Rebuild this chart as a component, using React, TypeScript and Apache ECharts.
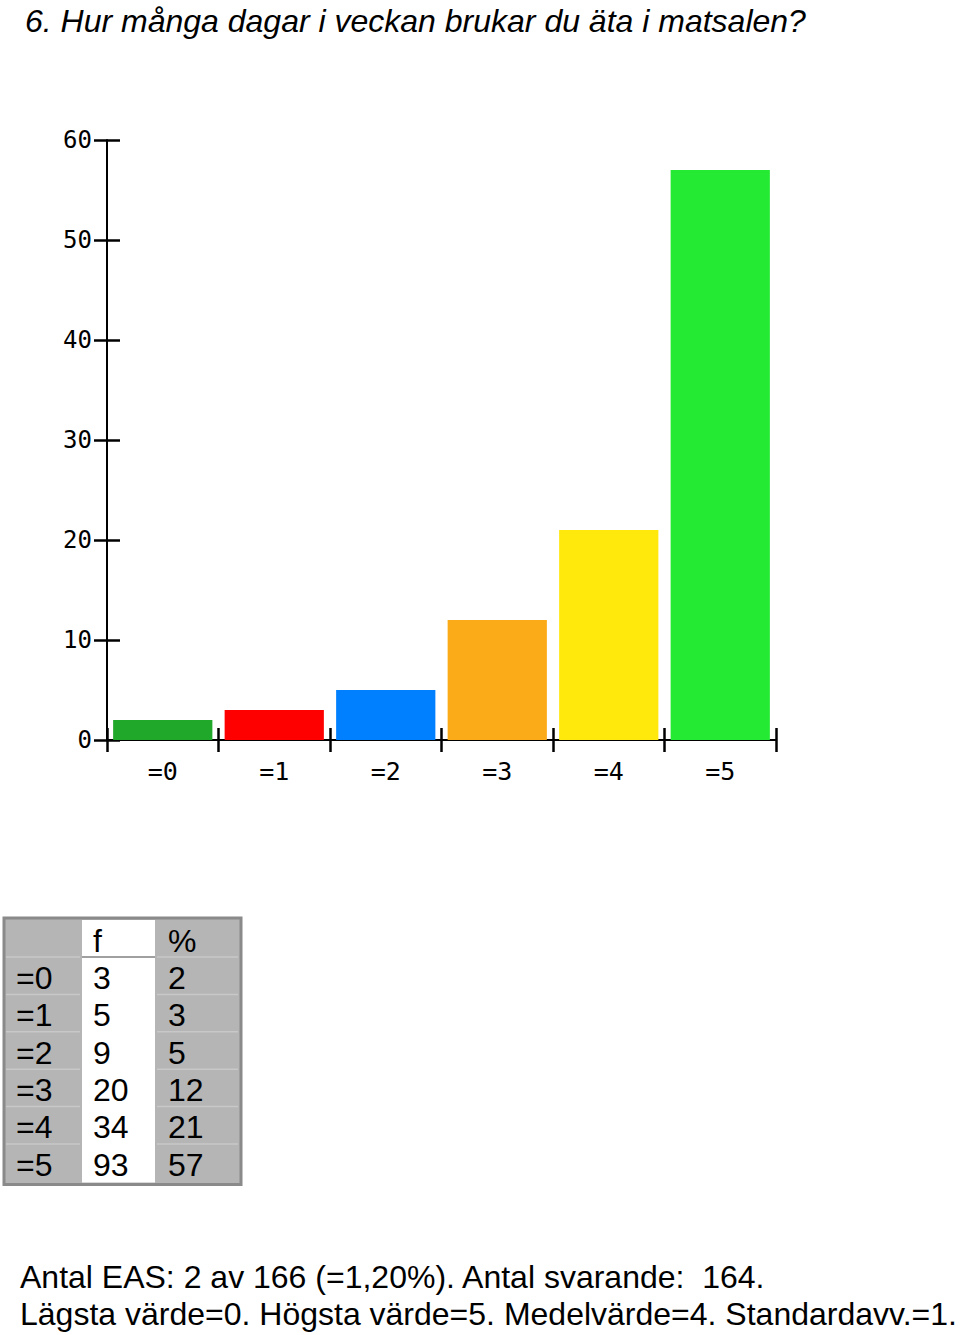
import React, { useEffect, useRef } from 'react';
import * as echarts from 'echarts';

const chartTitle = '6. Hur många dagar i veckan brukar du äta i matsalen?';
const categories = ['=0', '=1', '=2', '=3', '=4', '=5'];
const frequencies = [3, 5, 9, 20, 34, 93];
const percents = [2, 3, 5, 12, 21, 57];
const barColors = ['#1fa82a', '#fe0000', '#0080ff', '#fbab18', '#ffe80c', '#25ea34'];
const tableHeader = ['', 'f', '%'];
const footerLines = [
  'Antal EAS: 2 av 166 (=1,20%). Antal svarande:  164.',
  'Lägsta värde=0. Högsta värde=5. Medelvärde=4. Standardavv.=1.',
];

const sans = '"Liberation Sans", Arial, sans-serif';
const pixelFont = '"DejaVu Sans Mono", monospace';

// table geometry
const tableLeft = 4;
const tableTop = 918;
const headerH = 39;
const rowH = 37.4;
const colLeft = [6, 82, 157];
const colRight = [80, 155, 238];

function buildTable(): any[] {
  const rows = [tableHeader, ...categories.map((c, i) => [c, String(frequencies[i]), String(percents[i])])];
  const bottom = tableTop + headerH + rowH * categories.length + 3;
  const els: any[] = [
    {
      type: 'rect',
      shape: { x: tableLeft, y: tableTop, width: 237, height: bottom - tableTop },
      style: { fill: '#b5b5b5', stroke: '#8a8a8a', lineWidth: 3 },
    },
    {
      type: 'rect',
      shape: { x: colLeft[1], y: tableTop + 2, width: colRight[1] - colLeft[1], height: bottom - tableTop - 4 },
      style: { fill: '#ffffff' },
    },
  ];
  // row separators
  for (let r = 0; r < categories.length; r++) {
    const y = tableTop + headerH + rowH * r;
    els.push({
      type: 'line',
      shape: { x1: colLeft[0], y1: y, x2: colRight[0], y2: y },
      style: { stroke: '#c8c8c8', lineWidth: 1.5 },
    });
    els.push({
      type: 'line',
      shape: { x1: colLeft[2], y1: y, x2: colRight[2], y2: y },
      style: { stroke: '#c8c8c8', lineWidth: 1.5 },
    });
  }
  els.push({
    type: 'line',
    shape: { x1: colLeft[1], y1: tableTop + headerH, x2: colRight[1], y2: tableTop + headerH },
    style: { stroke: '#a0a0a0', lineWidth: 2 },
  });
  rows.forEach((row, r) => {
    const cy = r === 0 ? tableTop + headerH / 2 + 3 : tableTop + headerH + rowH * (r - 1) + rowH / 2 + 2;
    row.forEach((txt, c) => {
      if (!txt) return;
      els.push({
        type: 'text',
        x: colLeft[c] + (c === 0 ? 10 : 11),
        y: cy,
        style: {
          text: txt,
          fill: '#000',
          fontSize: 32,
          fontFamily: sans,
          verticalAlign: 'middle',
          align: 'left',
        },
      });
    });
  });
  return els;
}

const App: React.FC = () => {
  const chartRef = useRef<HTMLDivElement>(null);

  useEffect(() => {
    document.body.style.margin = '0';
    if (!chartRef.current) return;
    const chart = echarts.init(chartRef.current, undefined, { renderer: 'svg' });

    const axisLineStyle = { color: '#000', width: 2 };
    const tickStyle = { color: '#000', width: 2.5 };

    const option: echarts.EChartsOption = {
      animation: false,
      backgroundColor: '#fff',
      title: {
        text: chartTitle,
        left: 20,
        top: 0,
        textStyle: { fontStyle: 'italic', fontWeight: 'normal', fontSize: 32, fontFamily: sans, color: '#000' },
      },
      grid: { left: 107, right: 184, top: 140, bottom: 595 },
      xAxis: [
        {
          type: 'category',
          data: categories,
          axisLine: { show: true, lineStyle: axisLineStyle },
          axisTick: { show: true, interval: 0, alignWithLabel: false, length: 12, lineStyle: tickStyle },
          axisLabel: { margin: 19, fontSize: 25, fontFamily: pixelFont, color: '#000' },
        },
        {
          type: 'category',
          data: categories,
          position: 'bottom',
          axisLine: { show: false },
          axisTick: { show: true, interval: 0, inside: true, length: 12, lineStyle: tickStyle },
          axisLabel: { show: false },
        },
      ],
      yAxis: [
        {
          type: 'value',
          min: 0,
          max: 60,
          interval: 10,
          splitLine: { show: false },
          axisLine: { show: true, lineStyle: axisLineStyle },
          axisTick: { show: true, length: 13, lineStyle: tickStyle },
          axisLabel: { margin: 15, fontSize: 24, fontFamily: pixelFont, color: '#000' },
        },
        {
          type: 'value',
          min: 0,
          max: 60,
          interval: 10,
          position: 'left',
          splitLine: { show: false },
          axisLine: { show: false },
          axisTick: { show: true, inside: true, length: 13, lineStyle: tickStyle },
          axisLabel: { show: false },
        },
      ],
      series: [
        {
          type: 'bar',
          xAxisIndex: 0,
          yAxisIndex: 0,
          barCategoryGap: '11%',
          data: percents.map((v, i) => ({ value: v, itemStyle: { color: barColors[i] } })),
        },
      ],
      graphic: [
        ...buildTable(),
        ...footerLines.map((line, i) => ({
          type: 'text',
          x: 20,
          y: 1277 + i * 37,
          style: {
            text: line,
            fill: '#000',
            fontSize: 32,
            fontFamily: sans,
            verticalAlign: 'middle',
            align: 'left',
          },
        })),
      ],
    };

    chart.setOption(option);
    return () => {
      chart.dispose();
    };
  }, []);

  return <div ref={chartRef} style={{ width: '960px', height: '1335px' }} />;
};

export default App;
